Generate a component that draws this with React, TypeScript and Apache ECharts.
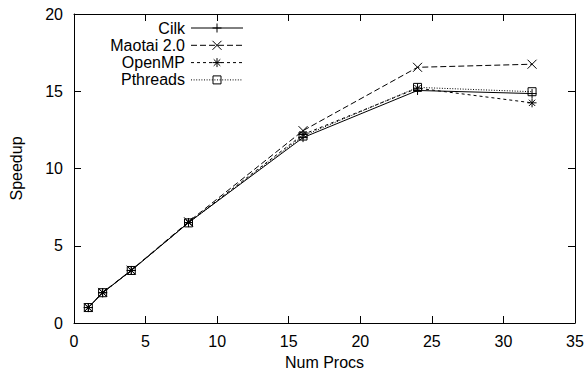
import { useEffect, useRef } from "react";
import * as echarts from "echarts";

// Processor counts on the x axis
const procs = [1, 2, 4, 8, 16, 24, 32];

// Speedup per runtime
const cilk = [1.0, 1.95, 3.4, 6.5, 12.0, 15.05, 14.85];
const maotai = [1.0, 1.98, 3.42, 6.55, 12.45, 16.55, 16.75];
const openmp = [1.0, 1.97, 3.4, 6.5, 12.2, 15.2, 14.25];
const pthreads = [1.0, 1.96, 3.4, 6.48, 12.1, 15.25, 14.97];

const seriesNames = ["Cilk", "Maotai 2.0", "OpenMP", "Pthreads"];
const seriesValues = [cilk, maotai, openmp, pthreads];

// Axis ranges
const xRange = { min: 0, max: 35, interval: 5 };
const yRange = { min: 0, max: 20, interval: 5 };

const FONT = '"Liberation Sans", Arial, Helvetica, sans-serif';
const INK = "#000";

type Marker = "plus" | "cross" | "star" | "square";

const markers: Marker[] = ["plus", "cross", "star", "square"];
const dashes: (number[] | "solid")[] = ["solid", [6, 3], [3, 3], [1, 1.6]];

const symbolPaths: Record<Marker, string> = {
  plus: "path://M5,0L5,10M0,5L10,5",
  cross: "path://M0,0L10,10M10,0L0,10",
  star: "path://M5,0L5,10M0,5L10,5M1.5,1.5L8.5,8.5M8.5,1.5L1.5,8.5",
  square: "rect",
};
const symbolSizes: Record<Marker, number> = { plus: 9, cross: 9, star: 9, square: 8 };

// Legend marker drawn with graphic primitives
function legendMarker(kind: Marker, cx: number, cy: number): any[] {
  const s = { stroke: INK, lineWidth: 1 };
  const seg = (x1: number, y1: number, x2: number, y2: number) => ({
    type: "line",
    shape: { x1: cx + x1, y1: cy + y1, x2: cx + x2, y2: cy + y2 },
    style: s,
  });
  const h = 4.5;
  const d = 3.3;
  if (kind === "plus") return [seg(-h, 0, h, 0), seg(0, -h, 0, h)];
  if (kind === "cross") return [seg(-h, -h, h, h), seg(-h, h, h, -h)];
  if (kind === "star")
    return [seg(-h, 0, h, 0), seg(0, -h, 0, h), seg(-d, -d, d, d), seg(-d, d, d, -d)];
  return [
    {
      type: "rect",
      shape: { x: cx - 4, y: cy - 4, width: 8, height: 8 },
      style: { stroke: INK, lineWidth: 1, fill: "transparent" },
    },
  ];
}

function buildLegend(): any[] {
  const textRight = 185;
  const lineStart = 191;
  const lineEnd = 243;
  const top = 28;
  const step = 17.3;
  const out: any[] = [];
  seriesNames.forEach((name, i) => {
    const y = top + i * step;
    out.push({
      type: "text",
      x: textRight,
      y,
      style: {
        text: name,
        align: "right",
        verticalAlign: "middle",
        font: `16px ${FONT}`,
        fill: INK,
      },
    });
    const dash = dashes[i];
    out.push({
      type: "line",
      shape: { x1: lineStart, y1: y, x2: lineEnd, y2: y },
      style: {
        stroke: INK,
        lineWidth: 1,
        lineDash: dash === "solid" ? null : dash,
      },
    });
    out.push(...legendMarker(markers[i], (lineStart + lineEnd) / 2, y));
  });
  return out;
}

export default function App() {
  const ref = useRef<HTMLDivElement>(null);

  useEffect(() => {
    if (!ref.current) return;
    const chart = echarts.init(ref.current, undefined, { renderer: "svg" });

    const axisLine = { show: true, onZero: false, lineStyle: { color: INK, width: 1 } };
    const axisTick = { show: true, inside: true, length: 7, lineStyle: { color: INK, width: 1 } };
    const label = { color: INK, fontSize: 16, fontFamily: FONT };

    const option: any = {
      animation: false,
      backgroundColor: "#fff",
      grid: {
        left: 74,
        right: 11,
        top: 14,
        bottom: 49,
        containLabel: false,
        outerBoundsMode: "none",
      },
      xAxis: [
        {
          type: "value",
          ...xRange,
          position: "bottom",
          axisLine,
          axisTick,
          splitLine: { show: false },
          axisLabel: { ...label, margin: 10 },
          name: "Num Procs",
          nameLocation: "middle",
          nameGap: 31,
          nameTextStyle: { ...label },
        },
        {
          type: "value",
          ...xRange,
          position: "top",
          axisLine,
          axisTick,
          splitLine: { show: false },
          axisLabel: { show: false },
        },
      ],
      yAxis: [
        {
          type: "value",
          ...yRange,
          position: "left",
          axisLine,
          axisTick,
          splitLine: { show: false },
          axisLabel: { ...label, margin: 11 },
          name: "Speedup",
          nameLocation: "middle",
          nameGap: 50,
          nameTextStyle: { ...label },
        },
        {
          type: "value",
          ...yRange,
          position: "right",
          axisLine,
          axisTick,
          splitLine: { show: false },
          axisLabel: { show: false },
        },
      ],
      series: seriesNames.map((name, i) => {
        const m = markers[i];
        const dash = dashes[i];
        return {
          name,
          type: "line",
          xAxisIndex: 0,
          yAxisIndex: 0,
          data: procs.map((p, j) => [p, seriesValues[i][j]]),
          symbol: symbolPaths[m],
          symbolSize: symbolSizes[m],
          showAllSymbol: true,
          lineStyle: { color: INK, width: 1, type: dash },
          itemStyle: { color: "transparent", borderColor: INK, borderWidth: 1 },
          emphasis: { disabled: true },
          z: 10 - i,
        };
      }),
      graphic: buildLegend(),
    };

    chart.setOption(option);
    return () => chart.dispose();
  }, []);

  return (
    <div
      ref={ref}
      style={{ position: "fixed", left: 0, top: 0, width: 586, height: 372 }}
    />
  );
}
